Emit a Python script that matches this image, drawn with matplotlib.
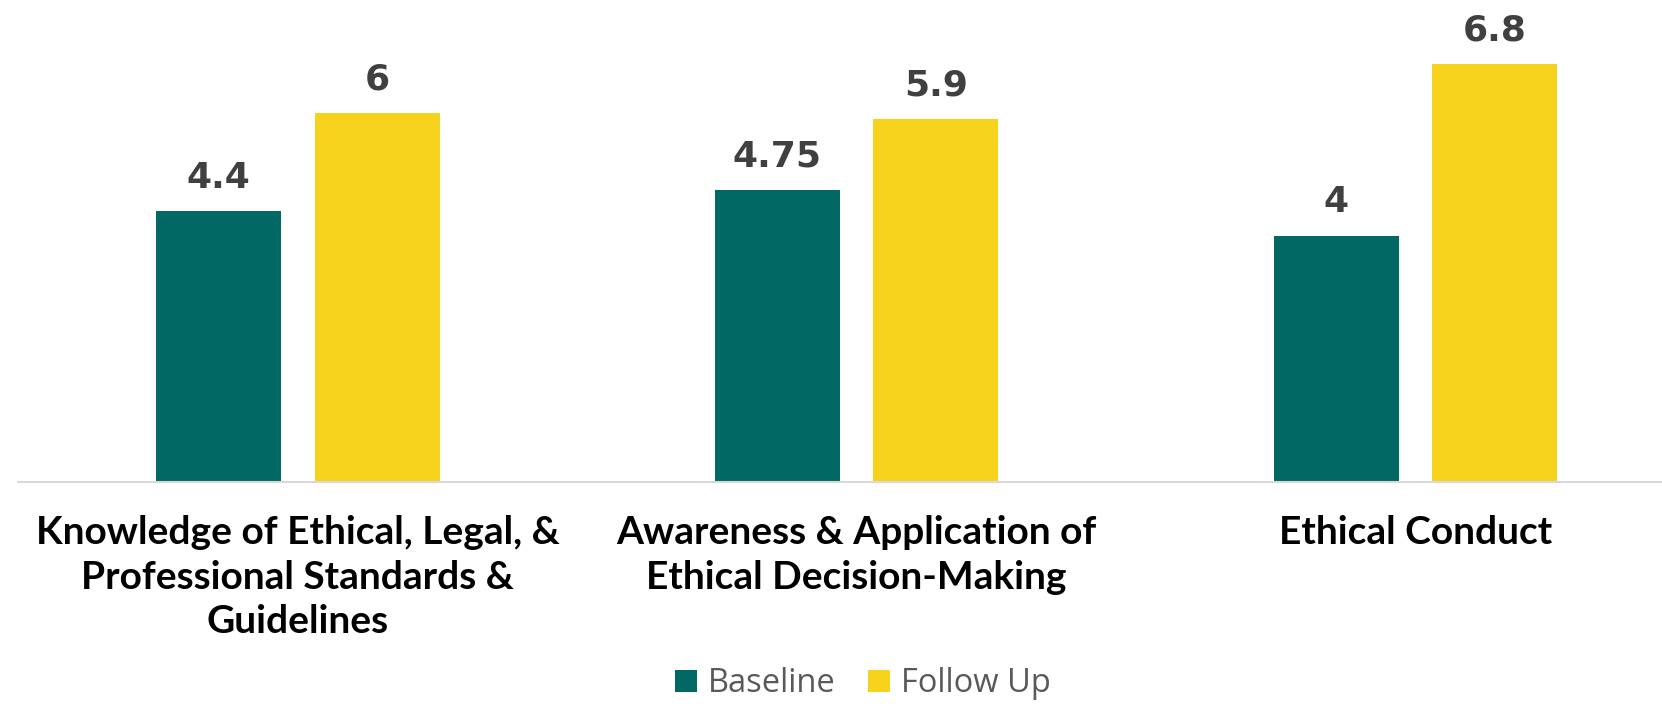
import matplotlib
matplotlib.use("Agg")
import matplotlib.pyplot as plt
import numpy as np

categories = ["Knowledge of Ethical, Legal, &\nProfessional Standards &\nGuidelines",
              "Awareness & Application of\nEthical Decision-Making",
              "Ethical Conduct"]
series_names = ["Baseline", "Follow Up"]
baseline = [4.4, 4.75, 4.0]
follow_up = [6.0, 5.9, 6.8]
value_labels_baseline = ["4.4", "4.75", "4"]
value_labels_follow = ["6", "5.9", "6.8"]

teal = "#026864"
yellow = "#F7D21C"

W, H = 1662, 706
fig = plt.figure(figsize=(W / 100, H / 100), dpi=100)
left_px, right_px, base_px = 18, 1662, 482
ax = fig.add_axes([left_px / W, 1 - base_px / H, (right_px - left_px) / W, base_px / H])

cat_px = 559.0
x = np.arange(len(categories))
bw = 125 / cat_px
off = 79.5 / cat_px
b1 = ax.bar(x - off, baseline, bw, color=teal)
b2 = ax.bar(x + off, follow_up, bw, color=yellow)

ax.set_xlim(-0.5, -0.5 + (right_px - left_px) / cat_px)
ax.set_ylim(0, base_px / 61.5)

for rects, labs in ((b1, value_labels_baseline), (b2, value_labels_follow)):
    for r, lab in zip(rects, labs):
        ax.annotate(lab, (r.get_x() + r.get_width() / 2, r.get_height()),
                    xytext=(0, 12), textcoords="offset points", ha="center", va="bottom",
                    fontsize=26, fontweight="bold", color="#404040", family="DejaVu Sans")

for s in ["top", "right", "left"]:
    ax.spines[s].set_visible(False)
ax.spines["bottom"].set_color("#D9D9D9")
ax.spines["bottom"].set_linewidth(1.5)
ax.set_yticks([])
ax.set_xticks(x)
ax.set_xticklabels(categories, fontsize=28, fontweight="bold", family="Lato",
                   color="black", linespacing=1.32)
ax.tick_params(axis="x", length=0, pad=24)

fig.legend([b1, b2], series_names, loc="center", bbox_to_anchor=(863 / W, 1 - 684 / H),
           ncol=2, frameon=False, prop={"family": "Open Sans", "size": 23.5},
           labelcolor="#595959", handlelength=0.65, handleheight=0.65,
           columnspacing=1.0, handletextpad=0.35, borderpad=0.1)

fig.savefig("out.png", dpi=100)
